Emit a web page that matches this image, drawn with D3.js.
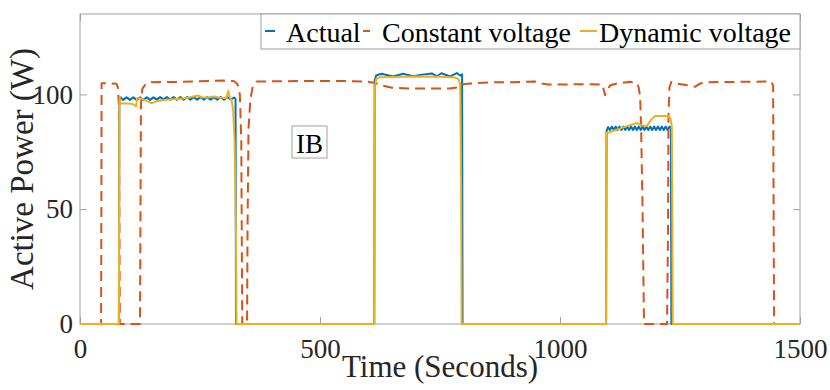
<!DOCTYPE html>
<html>
<head>
<meta charset="utf-8">
<script src="https://cdn.jsdelivr.net/npm/d3@7"></script>
<style>
  body { margin: 0; background: #fff; }
  svg { display: block; font-family: "Liberation Serif", "Times New Roman", serif; }
</style>
</head>
<body>
<svg id="chart" width="830" height="390"></svg>
<script>
// series names and colours (MATLAB default order)
var seriesNames = ["Actual", "Constant voltage", "Dynamic voltage"];
var seriesColors = ["#0072BD", "#D95319", "#EDB120"];
var xTicks = [0, 500, 1000, 1500];
var yTicks = [0, 50, 100];

// [time (s), active power (W)]
var actual = [
  [0,0],[81,0],[82,97],[84,98.7],[90,97.6],[97,98.7],[104,97.6],[111,98.7],[118,97.6],[125,98.7],
  [132,97.6],[139,98.7],[146,97.6],[153,98.7],[160,97.7],[167,98.8],[174,97.7],[181,98.8],
  [188,97.7],[195,98.8],[202,97.7],[209,98.8],[216,97.7],[223,98.8],[230,97.7],[237,98.8],
  [244,97.7],[251,98.8],[258,97.7],[265,98.8],[272,97.7],[279,98.8],[286,97.7],[293,98.8],
  [300,97.7],[307,98.8],[314,97.8],[321,98.6],[324,98],[325,0],
  [613,0],[614,106],[617,108.2],[628,109],[652,107.8],[673,109],[694,107.9],[713,108.6],
  [733,109.1],[743,107.9],[753,109.2],[771,107.8],[785,109.3],[792,108.2],[796,108.7],[797,0],
  [1096,0],[1097,84],[1100,85.8],[1104,84.5],[1108,86],[1112,84.5],[1116,86],[1120,84.5],
  [1124,86],[1128,84.5],[1132,86],[1136,84.5],[1140,86],[1144,84.5],[1148,86],[1152,84.5],
  [1156,86],[1160,84.5],[1164,86],[1168,84.5],[1172,86],[1176,84.5],[1180,86],[1184,84.5],
  [1188,86],[1192,84.5],[1196,86],[1200,84.5],[1204,86],[1208,84.5],[1212,86],[1216,84.5],
  [1220,86],[1224,84.5],[1228,86],[1231,85.3],[1232,0],[1500,0]
];

var constantV = [
  [0,0],[44,0],[45,104.8],[60,104.8],[76,104.6],[79,103],[81,95],[82,50],[83,0],
  [125,0],[126,50],[127,96],[130,102.5],[137,104.5],[147,105.3],[200,105.4],[250,105.7],
  [300,106],[320,105.8],[328,104.5],[333,100],[336,80],[337,40],[338,0],[348,0],
  [349,40],[351,85],[355,98],[360,103.5],[368,105.6],[450,105.8],[550,105.8],[600,105.5],
  [615,105],[630,103.8],[650,102.9],[690,102.5],[770,102.6],[785,103],[795,104.3],
  [806,104.6],[851,105.2],[920,105.4],[948,105.6],[958,104.8],[975,104.3],[1056,104.4],
  [1088,104.3],[1091,102],[1094,99.6],[1098,102],[1105,104],[1120,104.8],[1146,105.5],
  [1160,105],[1164,103],[1167,99],[1169,85],[1172,50],[1175,0],[1223,0],[1225,40],
  [1226,90],[1228,103],[1232,105.4],[1245,104.6],[1265,104],[1281,103.3],[1290,104.5],
  [1300,105.3],[1440,105.6],[1444,104],[1446,0],[1500,0]
];

var dynamicV = [
  [0,0],[81,0],[82,96],[83,98.5],[84,96],[100,96],[110,95.8],[117,94.8],[119,98.3],
  [125,98.3],[135,97.5],[149,96.2],[160,97],[180,97.7],[200,98],[220,98.3],[246,99.5],
  [255,98.6],[270,98.7],[280,99.1],[290,98.5],[305,98.4],[309,101.6],[312,98.6],
  [316,97.5],[319,93],[322,80],[325,40],[326,0],
  [613,0],[614,102],[617,106.6],[625,107.5],[650,107.6],[700,107.8],[750,107.7],
  [780,107.4],[788,106.8],[792,104.6],[794,60],[795,0],
  [1096,0],[1097,83.3],[1100,83.3],[1130,85.5],[1160,87.5],[1170,86.6],[1181,86.2],
  [1190,89],[1198,90.6],[1225,90.6],[1230,89.5],[1233,86],[1235,0],[1500,0]
];

var allSeries = [actual, constantV, dynamicV];

var svg = d3.select("#chart");
var plotLeft = 80, plotRight = 800, plotTop = 14, plotBottom = 324;
var axisGray = "#a0a0a0";

var x = d3.scaleLinear().domain([0, 1500]).range([plotLeft, plotRight]);
var y = d3.scaleLinear().domain([0, 135]).range([plotBottom, plotTop]);

// plot box
svg.append("rect")
  .attr("x", plotLeft).attr("y", plotTop)
  .attr("width", plotRight - plotLeft).attr("height", plotBottom - plotTop)
  .attr("fill", "#fff").attr("stroke", axisGray).attr("stroke-width", 1);

var styleAxis = function(g) {
  g.select(".domain").remove();
  g.selectAll(".tick line").attr("stroke", axisGray);
  g.selectAll(".tick text").attr("fill", "#262626").attr("font-size", 27)
    .attr("font-family", "Liberation Serif");
}

svg.append("g").attr("transform", "translate(0," + plotBottom + ")")
  .call(d3.axisBottom(x).tickValues(xTicks).tickSize(-7).tickPadding(15).tickFormat(d3.format("d")))
  .call(styleAxis);
svg.append("g").attr("transform", "translate(0," + plotTop + ")")
  .call(d3.axisTop(x).tickValues(xTicks).tickSize(-7).tickFormat(""))
  .call(styleAxis);
svg.append("g").attr("transform", "translate(" + plotLeft + ",0)")
  .call(d3.axisLeft(y).tickValues(yTicks).tickSize(-7).tickPadding(7))
  .call(styleAxis);
svg.append("g").attr("transform", "translate(" + plotRight + ",0)")
  .call(d3.axisRight(y).tickValues(yTicks).tickSize(-7).tickFormat(""))
  .call(styleAxis);

// lines
var line = d3.line().x(function(d) { return x(d[0]); }).y(function(d) { return y(d[1]); });
allSeries.forEach(function(s, i) {
  svg.append("path")
    .datum(s)
    .attr("d", line)
    .attr("fill", "none")
    .attr("stroke", seriesColors[i])
    .attr("stroke-width", 2)
    .attr("stroke-linejoin", "round")
    .attr("stroke-dasharray", i == 1 ? "10,6" : null);
});

// axis labels
svg.append("text")
  .attr("x", (plotLeft + plotRight) / 2).attr("y", 377)
  .attr("text-anchor", "middle").attr("font-size", 31).attr("fill", "#262626")
  .text("Time (Seconds)");
svg.append("text")
  .attr("transform", "translate(33," + (plotTop + plotBottom) / 2 + ") rotate(-90)")
  .attr("text-anchor", "middle").attr("font-size", 33).attr("fill", "#262626")
  .text("Active Power (W)");

// IB annotation
svg.append("rect")
  .attr("x", 292).attr("y", 126).attr("width", 35).attr("height", 32)
  .attr("fill", "#fff").attr("stroke", axisGray);
svg.append("text")
  .attr("x", 309.5).attr("y", 153).attr("text-anchor", "middle")
  .attr("font-size", 27).attr("fill", "#000").text("IB");

// legend
var legend = svg.append("g");
legend.append("rect")
  .attr("x", 261).attr("y", plotTop).attr("width", plotRight - 261).attr("height", 35)
  .attr("fill", "#fff").attr("stroke", axisGray);
var tokenX = [[265, 275], [363, 370], [580, 597]];
var labelX = [286, 382, 599];
seriesNames.forEach(function(name, i) {
  legend.append("line")
    .attr("x1", tokenX[i][0]).attr("x2", tokenX[i][1])
    .attr("y1", 31).attr("y2", 31)
    .attr("stroke", seriesColors[i]).attr("stroke-width", 2);
  legend.append("text")
    .attr("x", labelX[i]).attr("y", 42)
    .attr("font-size", 28).attr("fill", "#000")
    .text(name);
});
</script>
</body>
</html>
